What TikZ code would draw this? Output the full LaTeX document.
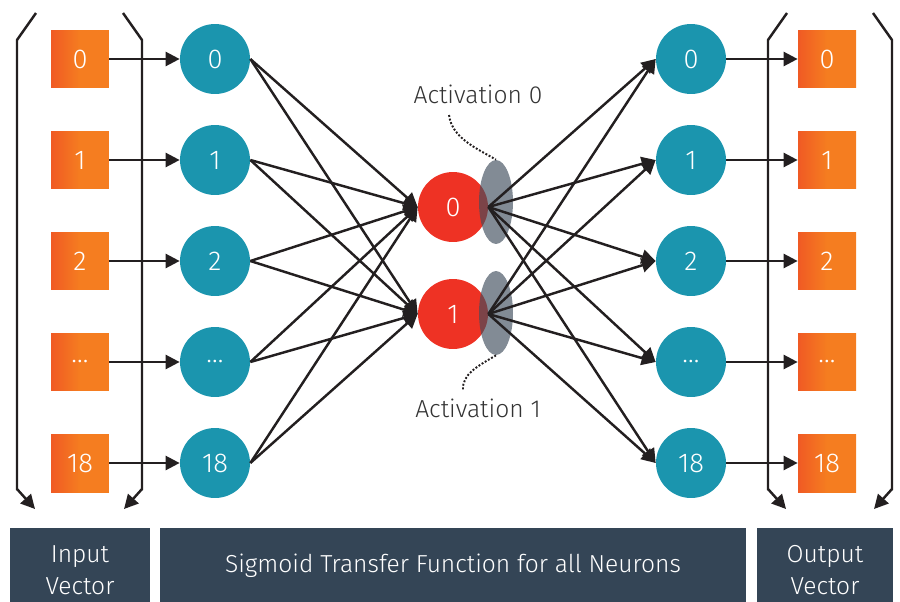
\documentclass[tikz,border=0pt]{standalone}
\usepackage{fontspec}
\setmainfont{Fira Sans Light}
\usetikzlibrary{arrows.meta,shapes.geometric}
\definecolor{ink}{RGB}{35,31,32}
\definecolor{teal}{RGB}{27,149,174}
\definecolor{hidred}{RGB}{238,50,36}
\definecolor{orA}{RGB}{240,90,36}
\definecolor{orB}{RGB}{245,125,32}
\definecolor{slate}{RGB}{52,69,86}
\definecolor{actgrey}{RGB}{63,77,92}
\definecolor{labtext}{RGB}{51,51,51}
\begin{document}
\begin{tikzpicture}[x=0.02cm,y=-0.02cm,
  font=\fontsize{14}{18}\selectfont,
  digits/.style={font=\fontsize{15.5}{18}\selectfont},
  vecbox/.style={rectangle, minimum size=1.16cm, inner sep=0pt, digits,
    left color=orA, right color=orB, middle color=orB, text=white},
  neuron/.style={circle, minimum size=1.4cm, inner sep=0pt, digits, fill=teal, text=white},
  hidden/.style={circle, minimum size=1.4cm, inner sep=0pt, digits, fill=hidred, text=white},
  actblob/.style={ellipse, minimum width=0.68cm, minimum height=1.68cm, inner sep=0pt,
    fill=actgrey, fill opacity=0.65},
  wire/.style={line width=1.4pt, draw=ink},
  arr/.style={wire, -{Triangle[length=8pt,width=8pt]}},
  dotline/.style={densely dotted, line width=1.1pt, draw=ink},
  bar/.style={rectangle, fill=slate, inner sep=0pt, minimum height=1.48cm},
  bartext/.style={text=white, inner sep=0pt, align=center},
  label/.style={text=labtext}
]
\useasboundingbox (0,0) rectangle (900,602);

% layers: input vector, input neurons, output neurons, output vector
\foreach \lab [count=\i from 0] in {0,1,2,\ldots,18} {
  \pgfmathsetmacro{\yy}{59+101*\i}
  \node[vecbox] (x\i) at (80,\yy) {\lab};
  \node[neuron] (n\i) at (215,\yy) {\lab};
  \node[neuron] (o\i) at (691,\yy) {\lab};
  \node[vecbox] (y\i) at (827,\yy) {\lab};
  \draw[arr] (x\i) -- (n\i);
  \draw[arr] (o\i) -- (y\i);
}

% hidden layer with its activation regions
\node[hidden] (h0) at (453,207) {0};
\node[hidden] (h1) at (453,314) {1};
\node[actblob] (e0) at (496,202) {};
\node[actblob] (e1) at (496,313) {};

\foreach \i in {0,...,4} {
  \foreach \j in {0,1} {
    \draw[arr] (n\i.east) -- (h\j.west);
    \draw[arr] (h\j.east) -- (o\i.west);
  }
}

% activation labels
\node[label] (a0) at (478,94) {Activation 0};
\node[label] (a1) at (478,408) {Activation 1};
\coordinate (c0) at (449,115);
\coordinate (c1) at (463,390);
\draw[dotline] (c0) .. controls (452,138) and (476,148) .. (e0.north);
\draw[dotline] (e1.south) .. controls (478,366) and (462,374) .. (c1);

% vector brackets
\foreach \l/\r in {17/142, 768/892} {
  \draw[wire, line join=miter] (\l+19,13) -- (\l,40) -- (\l,490);
  \draw[wire, line join=miter] (\r-19,13) -- (\r,40) -- (\r,490);
  \draw[arr] (\l,489) -- (\l+18,509);
  \draw[arr] (\r,489) -- (\r-18,509);
}

% captions along the bottom
\node[bar, minimum width=2.8cm] (bin) at (80,565) {};
\node[bar, minimum width=11.72cm] (bmid) at (453,565) {};
\node[bar, minimum width=2.72cm] (bout) at (825,565) {};
\node[bartext] (tin) at (80,570) {Input\\Vector};
\node[bartext] (tmid) at (453,566) {Sigmoid Transfer Function for all Neurons};
\node[bartext] (tout) at (825,570) {Output\\Vector};
\end{tikzpicture}
\end{document}
